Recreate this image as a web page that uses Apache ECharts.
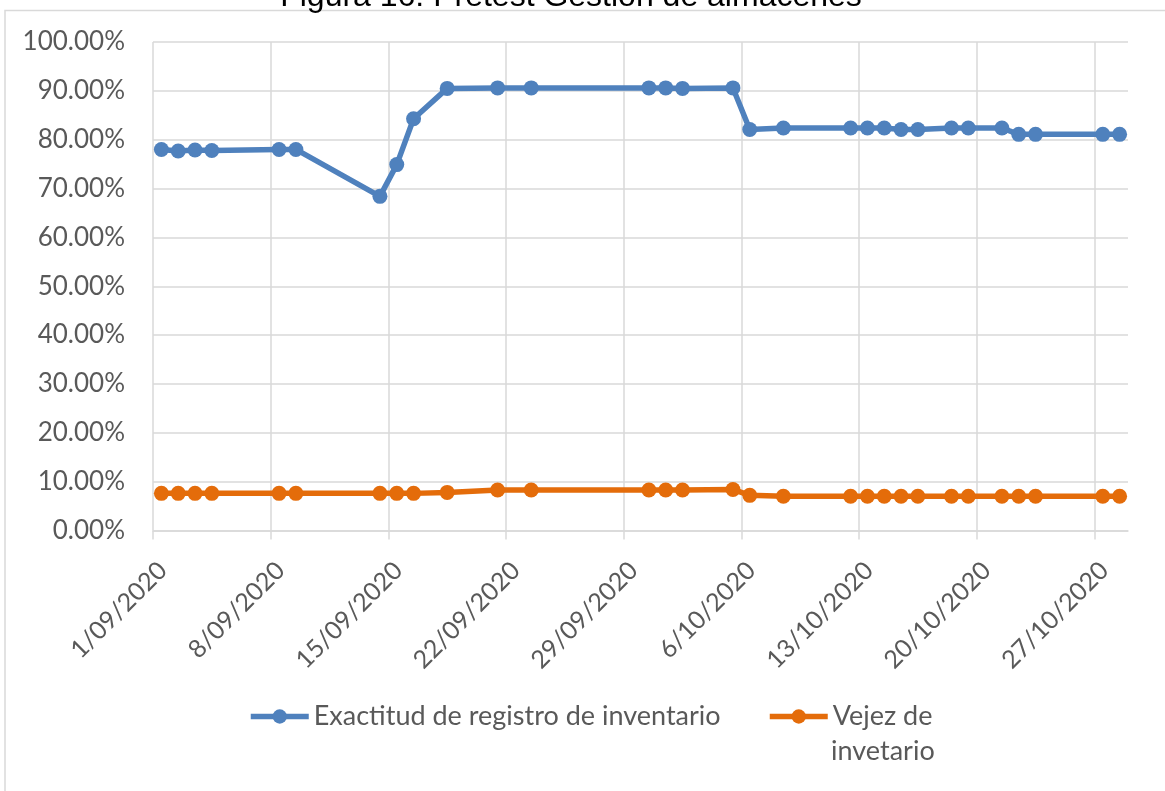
<!DOCTYPE html>
<html>
<head>
<meta charset="utf-8">
<script src="https://cdn.jsdelivr.net/npm/echarts@6/dist/echarts.min.js"></script>
<style>
  html, body { margin: 0; padding: 0; background: #fff; }
  #chart { width: 1165px; height: 791px; }
</style>
</head>
<body>
<div id="chart"></div>
<script>
// fechas de medicion
const dates = [
  '2020-09-01', '2020-09-02', '2020-09-03', '2020-09-04', '2020-09-08', '2020-09-09',
  '2020-09-14', '2020-09-15', '2020-09-16', '2020-09-18', '2020-09-21', '2020-09-23',
  '2020-09-30', '2020-10-01', '2020-10-02', '2020-10-05', '2020-10-06', '2020-10-08',
  '2020-10-12', '2020-10-13', '2020-10-14', '2020-10-15', '2020-10-16', '2020-10-18',
  '2020-10-19', '2020-10-21', '2020-10-22', '2020-10-23', '2020-10-27', '2020-10-28'
];
const exactitud = [
  78.0, 77.7, 77.9, 77.8, 78.0, 78.0,
  68.4, 74.9, 84.3, 90.5, 90.6, 90.6,
  90.6, 90.6, 90.5, 90.6, 82.1, 82.4,
  82.4, 82.4, 82.4, 82.1, 82.1, 82.4,
  82.4, 82.4, 81.1, 81.1, 81.1, 81.1
];
const vejez = [
  7.6, 7.6, 7.6, 7.6, 7.6, 7.6,
  7.6, 7.6, 7.6, 7.8, 8.3, 8.3,
  8.3, 8.3, 8.3, 8.4, 7.2, 7.0,
  7.0, 7.0, 7.0, 7.0, 7.0, 7.0,
  7.0, 7.0, 7.0, 7.0, 7.0, 7.0
];
const seriesNames = ['Exactitud de registro de inventario', 'Vejez de invetario'];
const startDate = '2020-09-01';
const totalDays = 58;

const DAY = 86400000;
const t0 = Date.parse(startDate);
// cada punto va al centro de su dia (eje de fechas de Excel)
const dayPos = d => (Date.parse(d) - t0) / DAY + 0.5;
const pair = vals => dates.map((d, i) => [dayPos(d), vals[i]]);

function fmtDate(v) {
  const d = new Date(t0 + v * DAY);
  const m = String(d.getUTCMonth() + 1).padStart(2, '0');
  return d.getUTCDate() + '/' + m + '/' + d.getUTCFullYear();
}

const labelFont = 'Lato, "Open Sans", sans-serif';
const gray = '#595959';
const gridColor = '#d9d9d9';

const legendBase = {
  top: 703,
  padding: 0,
  itemWidth: 58,
  itemHeight: 18,
  lineStyle: {width: 5.5},
  textStyle: {color: gray, fontFamily: labelFont, fontSize: 27}
};

const chart = echarts.init(document.getElementById('chart'), null, {renderer: 'canvas'});
chart.setOption({
  animation: false,
  color: ['#4f81bd', '#e46c0a'],
  grid: {left: 153, right: 37, top: 42, bottom: 260.5, containLabel: false},
  xAxis: {
    type: 'value',
    min: 0,
    max: totalDays,
    interval: 7,
    axisLine: {show: true, lineStyle: {color: gridColor, width: 1.5}},
    axisTick: {show: true, length: 9, lineStyle: {color: gridColor, width: 1.5}},
    splitLine: {show: true, showMaxLine: false, lineStyle: {color: gridColor, width: 1.5}},
    axisLabel: {
      rotate: 45,
      margin: 26,
      align: 'right',
      verticalAlign: 'top',
      lineHeight: 28,
      showMaxLabel: false,
      color: gray,
      fontFamily: labelFont,
      fontSize: 25,
      formatter: v => (v % 7 === 0 ? fmtDate(v) : '')
    }
  },
  yAxis: {
    type: 'value',
    min: 0,
    max: 100,
    interval: 10,
    axisLine: {show: false},
    axisTick: {show: false},
    splitLine: {lineStyle: {color: gridColor, width: 1.5}},
    axisLabel: {
      margin: 28,
      color: gray,
      fontFamily: labelFont,
      fontSize: 26,
      formatter: v => v.toFixed(2) + '%'
    }
  },
  legend: [
    Object.assign({data: [seriesNames[0]], left: 248}, legendBase),
    Object.assign({data: [seriesNames[1]], left: 767, formatter: () => 'Vejez de'}, legendBase)
  ],
  graphic: [
    {
      type: 'rect',
      silent: true,
      shape: {x: 5, y: 10.5, width: 1300, height: 900},
      style: {fill: 'none', stroke: gridColor, lineWidth: 1.5}
    },
    {
      type: 'text',
      x: 571,
      y: -19,
      style: {
        text: 'Figura 16: Pretest Gestión de almacenes',
        fill: '#000',
        align: 'center',
        verticalAlign: 'top',
        font: '32px "Liberation Sans", Arial, sans-serif'
      }
    },
    {
      type: 'text',
      x: 831,
      y: 738,
      style: {
        text: 'invetario',
        fill: gray,
        font: '27px Lato, "Open Sans", sans-serif'
      }
    }
  ],
  series: [
    {
      name: seriesNames[0],
      type: 'line',
      data: pair(exactitud),
      symbol: 'circle',
      symbolSize: 15,
      lineStyle: {width: 5.5},
      itemStyle: {color: '#4f81bd'}
    },
    {
      name: seriesNames[1],
      type: 'line',
      data: pair(vejez),
      symbol: 'circle',
      symbolSize: 15,
      lineStyle: {width: 5.5},
      itemStyle: {color: '#e46c0a'}
    }
  ]
});
</script>
</body>
</html>
